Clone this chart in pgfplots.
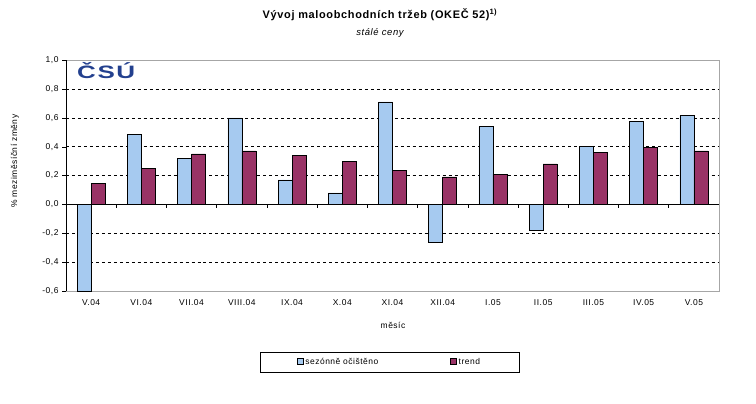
\documentclass[border=0pt]{standalone}
\usepackage{fontspec}
\setmainfont{Liberation Sans}[LetterSpace=6]
\usepackage{pgfplots}
\pgfplotsset{compat=1.18}
\definecolor{sezBlue}{HTML}{A6CAF0}
\definecolor{trendPurple}{HTML}{993366}
\definecolor{csuBlue}{HTML}{23408E}

\begin{document}
\begin{tikzpicture}[x=1bp,y=1bp,font=\fontsize{8.5}{10}\selectfont]
  \path (0,0) rectangle (756,403);
  \begin{axis}[
      at={(66bp,112bp)}, anchor=south west,
      scale only axis, width=653bp, height=231bp,
      ymin=-0.6, ymax=1.0,
      xmin=-0.5, xmax=12.5,
      axis line style={gray!70, line width=0.6pt},
      ytick={-0.6,-0.4,...,1.01},
      ytick pos=left,
      tick align=outside,
      major tick length=4bp,
      ytick style={black},
      extra y ticks={-0.4,-0.2,0.2,0.4,0.6,0.8},
      extra y tick style={grid=major, tick style={draw=none}, ticklabel style={opacity=0}},
      grid style={black, dashed, line width=0.5pt},
      yticklabel style={/pgf/number format/.cd, use comma, fixed, fixed zerofill, precision=1, assume math mode=true},
      xtick=data,
      xtick style={draw=none},
      xticklabels={V.04,VI.04,VII.04,VIII.04,IX.04,X.04,XI.04,XII.04,I.05,II.05,III.05,IV.05,V.05},
      xticklabel style={yshift=-1bp},
      ybar, bar width=14bp,
      legend style={at={(0.4954,-0.307)}, anchor=center, draw=black, line width=0.5pt,
        legend columns=2, inner xsep=37bp, inner ysep=4bp,
        /tikz/every even column/.append style={column sep=70bp}},
      legend image code/.code={\draw[#1, draw=black, line width=0.4pt] (0bp,-2.5bp) rectangle (6bp,3.5bp);},
    ]
    \addplot[fill=sezBlue, draw=black, line width=0.5pt, bar shift=-7bp] coordinates {
      (0,-0.60) (1,0.485) (2,0.32) (3,0.60) (4,0.17) (5,0.08) (6,0.71)
      (7,-0.26) (8,0.54) (9,-0.18) (10,0.40) (11,0.575) (12,0.615)};
    \addlegendentry{sezónně očištěno}
    \addplot[fill=trendPurple, draw=black, line width=0.5pt, bar shift=7bp] coordinates {
      (0,0.145) (1,0.25) (2,0.35) (3,0.37) (4,0.34) (5,0.30) (6,0.235)
      (7,0.19) (8,0.21) (9,0.28) (10,0.36) (11,0.395) (12,0.37)};
    \addlegendentry{trend}
    \draw[black, line width=0.6pt] (axis cs:-0.5,-0.6) -- (axis cs:-0.5,1.0);
    \draw[black, line width=0.6pt] (axis cs:-0.5,0) -- (axis cs:12.5,0);
    \pgfplotsinvokeforeach{0.5,1.5,2.5,3.5,4.5,5.5,6.5,7.5,8.5,9.5,10.5,11.5}{
      \draw[black, line width=0.6pt] (axis cs:#1,0) -- ([yshift=-4pt]axis cs:#1,0);
    }
  \end{axis}
  \node[csuBlue, inner sep=0pt, anchor=north west] at (77,341)
    {\scalebox{1.45}[1]{\fontsize{18}{18}\selectfont\bfseries ČSÚ}};
  \node[font=\fontsize{11}{13}\selectfont\bfseries] at (380,388) {Vývoj maloobchodních tržeb (OKEČ 52)\textsuperscript{1)}};
  \node[font=\fontsize{9.5}{11}\selectfont\itshape] at (380,370) {stálé ceny};
  \node[rotate=90] at (15,242) {\% meziměsíční změny};
  \node at (393,78) {měsíc};
\end{tikzpicture}
\end{document}
